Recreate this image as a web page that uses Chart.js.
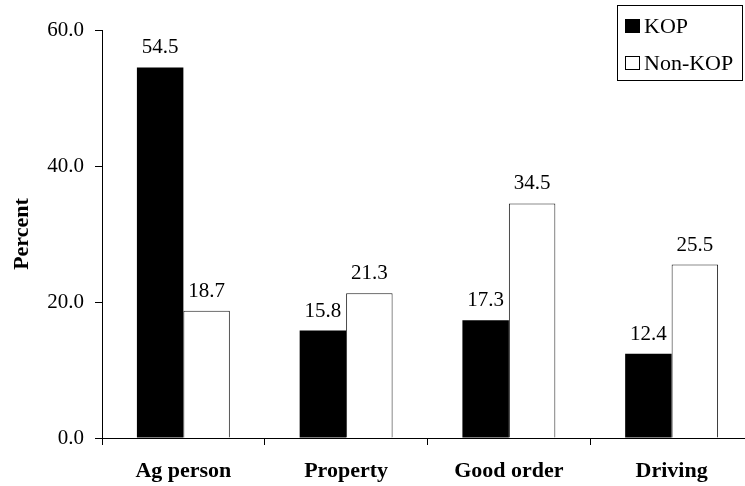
<!DOCTYPE html>
<html>
<head>
<meta charset="utf-8">
<script src="https://cdn.jsdelivr.net/npm/chart.js@4/dist/chart.umd.min.js"></script>
<style>
  html, body { margin: 0; padding: 0; background: #fff; overflow: hidden; }
  #wrap { width: 753px; height: 486px; }
</style>
</head>
<body>
<div id="wrap"><canvas id="chart" width="753" height="486"></canvas></div>
<script>
(function () {
  const categories = ["Ag person", "Property", "Good order", "Driving"];
  const kopValues = [54.5, 15.8, 17.3, 12.4];
  const nonKopValues = [18.7, 21.3, 34.5, 25.5];
  const yTicks = [0, 20, 40, 60];

  const serif = "'Liberation Serif', 'Times New Roman', serif";

  // value labels above each bar
  const valueLabels = {
    id: "valueLabels",
    afterDatasetsDraw(chart) {
      const ctx = chart.ctx;
      ctx.save();
      ctx.font = "21px " + serif;
      ctx.fillStyle = "#000";
      ctx.textAlign = "center";
      ctx.textBaseline = "alphabetic";
      chart.data.datasets.forEach((ds, i) => {
        chart.getDatasetMeta(i).data.forEach((bar, j) => {
          ctx.fillText(ds.data[j].toFixed(1), bar.x, bar.y - 14);
        });
      });
      ctx.restore();
    },
  };

  // boxed legend at the top right
  const boxLegend = {
    id: "boxLegend",
    afterDraw(chart) {
      const ctx = chart.ctx;
      ctx.save();
      ctx.strokeStyle = "#000";
      ctx.lineWidth = 1;
      ctx.strokeRect(617.5, 5.5, 125, 75);
      ctx.font = "22px " + serif;
      ctx.textBaseline = "alphabetic";
      ctx.textAlign = "left";
      chart.data.datasets.forEach((ds, i) => {
        const base = 33 + i * 37;
        ctx.fillStyle = ds.backgroundColor;
        ctx.fillRect(625, base - 14, 15, 14);
        if (ds.borderWidth) {
          ctx.strokeStyle = "#000";
          ctx.strokeRect(625.5, base - 13.5, 14, 13);
        }
        ctx.fillStyle = "#000";
        ctx.fillText(ds.label, 644, base);
      });
      ctx.restore();
    },
  };

  new Chart(document.getElementById("chart"), {
    type: "bar",
    data: {
      labels: categories,
      datasets: [
        {
          label: "KOP",
          data: kopValues,
          backgroundColor: "#000000",
          borderWidth: 0,
        },
        {
          label: "Non-KOP",
          data: nonKopValues,
          backgroundColor: "#ffffff",
          borderColor: "#1a1a1a",
          borderWidth: 1,
        },
      ],
    },
    options: {
      responsive: false,
      animation: false,
      layout: { padding: { top: 30, right: 0, bottom: 0, left: 0 } },
      datasets: {
        bar: { categoryPercentage: 0.571, barPercentage: 1 },
      },
      plugins: {
        legend: { display: false },
        tooltip: { enabled: false },
      },
      scales: {
        x: {
          grid: {
            drawOnChartArea: false,
            drawTicks: true,
            tickLength: 7,
            color: "#000",
          },
          border: { color: "#000", width: 1 },
          ticks: {
            color: "#000",
            padding: 13,
            maxRotation: 0,
            font: { family: serif, size: 22, weight: "bold" },
          },
          afterFit(scale) {
            scale.height = 48;
          },
        },
        y: {
          min: 0,
          max: 60,
          afterBuildTicks(scale) {
            scale.ticks = yTicks.map((v) => ({ value: v }));
          },
          grid: {
            drawOnChartArea: false,
            drawTicks: true,
            tickLength: 7,
            color: "#000",
          },
          border: { color: "#000", width: 1 },
          ticks: {
            color: "#000",
            padding: 11,
            font: { family: serif, size: 21 },
            callback: (v) => Number(v).toFixed(1),
          },
          title: {
            display: true,
            text: "Percent",
            color: "#000",
            padding: { top: 9, bottom: 0 },
            font: { family: serif, size: 22, weight: "bold" },
          },
          afterFit(scale) {
            scale.width = 102;
          },
        },
      },
    },
    plugins: [valueLabels, boxLegend],
  });
})();
</script>
</body>
</html>
